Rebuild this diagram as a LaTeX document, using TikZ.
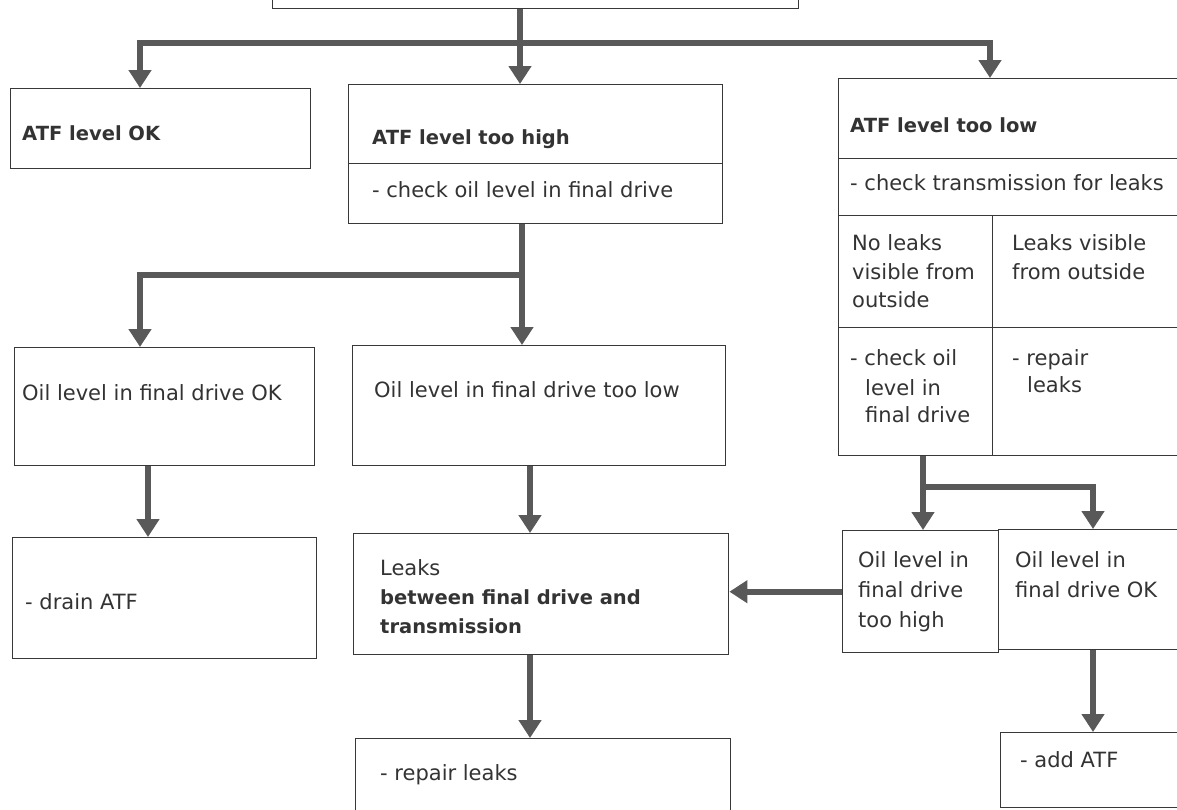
\documentclass[tikz,border=0pt]{standalone}
\usepackage{fontspec}
\setmainfont{DejaVu Sans}
\usetikzlibrary{arrows.meta,calc}
\definecolor{boxc}{gray}{0.22}
\definecolor{arrc}{gray}{0.35}
\definecolor{txtc}{gray}{0.2}
\newcommand\mybox[5]{\node[box, minimum width={(#4)-(#2)}, minimum height={(#5)-(#3)}] (#1) at (#2,#3) {};}
\begin{document}
\begin{tikzpicture}[x=1pt,y=-1pt,
  box/.style={draw=boxc, line width=1.4pt, rectangle, inner sep=0pt, anchor=north west},
  txt/.style={anchor=base west, inner sep=0pt, font=\fontsize{21}{29}\selectfont, text=txtc},
  btxt/.style={txt, font=\fontsize{19.5}{29}\selectfont\bfseries},
  conn/.style={draw=arrc, line width=6pt, line join=miter},
  arr/.style={conn, -{Triangle[length=18pt,width=22pt]}},
]
\useasboundingbox (0,0) rectangle (1177,809);
\clip (0,0) rectangle (1177,809);
\fill[white] (0,0) rectangle (1177,809);

% boxes
\mybox{top}{272}{-40}{798}{8}
\mybox{ok}{10}{88}{310}{168}
\mybox{toohigh}{348}{84}{722}{163}
\mybox{toohighchk}{348}{163}{722}{223}
\mybox{toolow}{838}{78}{1190}{158}
\mybox{toolowchk}{838}{158}{1190}{215}
\mybox{noleaks}{838}{215}{992}{327}
\mybox{leaksvis}{992}{215}{1190}{327}
\mybox{chkoil}{838}{327}{992}{455}
\mybox{repairone}{992}{327}{1190}{455}
\mybox{ofhigh}{842}{530}{998}{652}
\mybox{ofok}{998}{529}{1190}{649}
\mybox{addatf}{1000}{732}{1190}{807}
\mybox{fdok}{14}{347}{314}{465}
\mybox{fdlow}{352}{345}{725}{465}
\mybox{drain}{12}{537}{316}{658}
\mybox{leaks}{353}{533}{728}{654}
\mybox{repairtwo}{355}{738}{730}{840}

% texts
\node[btxt] (t1) at (22,140) {ATF level OK};
\node[btxt] (t2) at (372,144) {ATF level too high};
\node[txt] (t3) at (372,197) {- check oil level in final drive};
\node[btxt] (t4) at (850,132) {ATF level too low};
\node[txt] (t5) at (850,190) {- check transmission for leaks};
\node[txt] (t6a) at (852,250) {No leaks};
\node[txt] (t6b) at (852,279) {visible from};
\node[txt] (t6c) at (852,307) {outside};
\node[txt] (t7a) at (1012,250) {Leaks visible};
\node[txt] (t7b) at (1012,279) {from outside};
\node[txt] (t8a) at (850,365) {- check oil};
\node[txt] (t8b) at (865,395) {level in};
\node[txt] (t8c) at (865,422) {final drive};
\node[txt] (t9a) at (1012,365) {- repair};
\node[txt] (t9b) at (1027,392) {leaks};
\node[txt] (t10a) at (858,567) {Oil level in};
\node[txt] (t10b) at (858,597) {final drive};
\node[txt] (t10c) at (858,627) {too high};
\node[txt] (t11a) at (1015,567) {Oil level in};
\node[txt] (t11b) at (1015,597) {final drive OK};
\node[txt] (t12) at (1020,767) {- add ATF};
\node[txt] (t13) at (22,400) {Oil level in final drive OK};
\node[txt] (t14) at (374,397) {Oil level in final drive too low};
\node[txt] (t15) at (25,609) {- drain ATF};
\node[txt] (t16a) at (380,575) {Leaks};
\node[btxt] (t16b) at (380,604) {between final drive and};
\node[btxt] (t16c) at (380,633) {transmission};
\node[txt] (t17) at (380,780) {- repair leaks};

% connectors
\coordinate (b1) at (140,43);
\coordinate (b2) at (990,43);
\draw[arr] (top.south -| 520,0) -- (520,0 |- toohigh.north);
\draw[arr] (b2) -- (b1) -- (b1 |- ok.north);
\draw[arr] (b1) -- (b2) -- (b2 |- toolow.north);

\coordinate (c1) at (140,275);
\coordinate (c2) at (522,275);
\draw[arr] (c2 |- toohighchk.south) -- (c2 |- fdlow.north);
\draw[arr] (c2) -- (c1) -- (c1 |- fdok.north);

\coordinate (d1) at (148,500);
\coordinate (d2) at (530,500);
\draw[arr] (d1 |- fdok.south) -- (d1 |- drain.north);
\draw[arr] (d2 |- fdlow.south) -- (d2 |- leaks.north);
\draw[arr] (d2 |- leaks.south) -- (d2 |- repairtwo.north);

\coordinate (e1) at (923,487);
\coordinate (e2) at (1093,487);
\draw[arr] (e1 |- chkoil.south) -- (e1 |- ofhigh.north);
\draw[arr] (e1) -- (e2) -- (e2 |- ofok.north);
\draw[arr] (e2 |- ofok.south) -- (e2 |- addatf.north);
\draw[arr] (ofhigh.west) -- (ofhigh.west -| leaks.east);
\end{tikzpicture}
\end{document}
